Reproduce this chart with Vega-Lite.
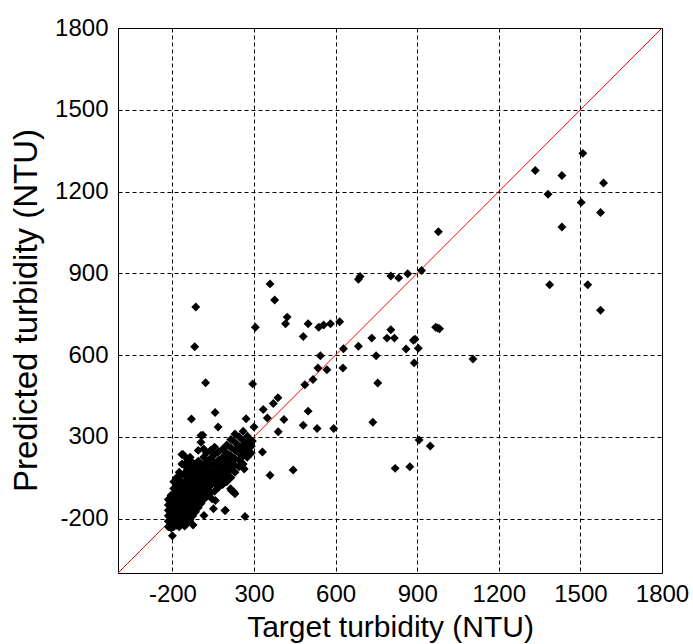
{
  "$schema": "https://vega.github.io/schema/vega-lite/v6.json",
  "autosize": {"type": "none"},
  "width": 544,
  "height": 545,
  "padding": {"left": 118, "top": 28, "right": 31, "bottom": 71},
  "background": "white",
  "config": {
    "view": {"stroke": "black", "strokeWidth": 1},
    "font": "Liberation Sans"
  },
  "datasets": {
    "diag": [{"t": -200, "p": -200}, {"t": 1800, "p": 1800}],
    "pts": [
      {"t":-15,"p":-30},{"t":-15,"p":-10},{"t":-15,"p":10},{"t":-15,"p":30},{"t":-15,"p":50},{"t":-15,"p":70},
      {"t":-5,"p":-35},{"t":-5,"p":-20},{"t":-5,"p":0},{"t":-5,"p":20},{"t":-5,"p":40},{"t":-5,"p":60},{"t":-5,"p":85},
      {"t":5,"p":-30},{"t":5,"p":-12},{"t":5,"p":8},{"t":5,"p":28},{"t":5,"p":48},{"t":5,"p":68},{"t":5,"p":90},{"t":5,"p":110},{"t":5,"p":135},
      {"t":15,"p":-25},{"t":15,"p":-5},{"t":15,"p":15},{"t":15,"p":35},{"t":15,"p":55},{"t":15,"p":75},{"t":15,"p":95},{"t":15,"p":120},{"t":15,"p":150},
      {"t":25,"p":-30},{"t":25,"p":-10},{"t":25,"p":10},{"t":25,"p":30},{"t":25,"p":50},{"t":25,"p":70},{"t":25,"p":92},{"t":25,"p":115},{"t":25,"p":140},{"t":25,"p":170},
      {"t":35,"p":-20},{"t":35,"p":0},{"t":35,"p":20},{"t":35,"p":40},{"t":35,"p":60},{"t":35,"p":80},{"t":35,"p":105},{"t":35,"p":130},{"t":35,"p":160},{"t":35,"p":200},{"t":35,"p":235},
      {"t":45,"p":-28},{"t":45,"p":-5},{"t":45,"p":15},{"t":45,"p":38},{"t":45,"p":58},{"t":45,"p":82},{"t":45,"p":108},{"t":45,"p":135},{"t":45,"p":165},{"t":45,"p":195},{"t":45,"p":228},
      {"t":55,"p":-15},{"t":55,"p":5},{"t":55,"p":25},{"t":55,"p":45},{"t":55,"p":70},{"t":55,"p":95},{"t":55,"p":120},{"t":55,"p":150},{"t":55,"p":180},{"t":55,"p":210},
      {"t":65,"p":-5},{"t":65,"p":15},{"t":65,"p":35},{"t":65,"p":55},{"t":65,"p":80},{"t":65,"p":105},{"t":65,"p":130},{"t":65,"p":160},{"t":65,"p":190},{"t":65,"p":225},
      {"t":75,"p":10},{"t":75,"p":30},{"t":75,"p":52},{"t":75,"p":75},{"t":75,"p":100},{"t":75,"p":125},{"t":75,"p":150},{"t":75,"p":175},{"t":75,"p":205},
      {"t":85,"p":25},{"t":85,"p":45},{"t":85,"p":65},{"t":85,"p":90},{"t":85,"p":115},{"t":85,"p":140},{"t":85,"p":165},{"t":85,"p":195},
      {"t":95,"p":40},{"t":95,"p":60},{"t":95,"p":85},{"t":95,"p":110},{"t":95,"p":135},{"t":95,"p":160},{"t":95,"p":185},{"t":95,"p":210},{"t":95,"p":250},
      {"t":105,"p":55},{"t":105,"p":78},{"t":105,"p":100},{"t":105,"p":125},{"t":105,"p":150},{"t":105,"p":175},{"t":105,"p":200},{"t":105,"p":280},{"t":105,"p":305},
      {"t":115,"p":70},{"t":115,"p":95},{"t":115,"p":120},{"t":115,"p":145},{"t":115,"p":170},{"t":115,"p":195},{"t":115,"p":225},{"t":115,"p":255},
      {"t":125,"p":80},{"t":125,"p":105},{"t":125,"p":130},{"t":125,"p":155},{"t":125,"p":180},{"t":125,"p":205},{"t":125,"p":240},
      {"t":140,"p":95},{"t":140,"p":120},{"t":140,"p":145},{"t":140,"p":170},{"t":140,"p":195},{"t":140,"p":220},{"t":140,"p":250},
      {"t":155,"p":100},{"t":155,"p":130},{"t":155,"p":155},{"t":155,"p":180},{"t":155,"p":205},{"t":155,"p":235},{"t":155,"p":262},
      {"t":170,"p":115},{"t":170,"p":140},{"t":170,"p":165},{"t":170,"p":190},{"t":170,"p":215},{"t":170,"p":245},
      {"t":185,"p":125},{"t":185,"p":150},{"t":185,"p":175},{"t":185,"p":200},{"t":185,"p":225},{"t":185,"p":255},
      {"t":200,"p":135},{"t":200,"p":165},{"t":200,"p":190},{"t":200,"p":215},{"t":200,"p":240},{"t":200,"p":270},
      {"t":215,"p":150},{"t":215,"p":180},{"t":215,"p":205},{"t":215,"p":230},{"t":215,"p":260},{"t":215,"p":290},
      {"t":230,"p":170},{"t":230,"p":195},{"t":230,"p":220},{"t":230,"p":250},{"t":230,"p":280},{"t":230,"p":310},
      {"t":245,"p":190},{"t":245,"p":215},{"t":245,"p":240},{"t":245,"p":265},{"t":245,"p":300},
      {"t":260,"p":200},{"t":260,"p":230},{"t":260,"p":255},{"t":260,"p":285},{"t":260,"p":320},
      {"t":275,"p":225},{"t":275,"p":250},{"t":275,"p":275},
      {"t":290,"p":240},{"t":290,"p":265},{"t":290,"p":285},
      {"t":86,"p":776},{"t":82,"p":630},{"t":122,"p":498},{"t":70,"p":365},{"t":157,"p":389},{"t":168,"p":336},{"t":112,"p":306},{"t":39,"p":235},
      {"t":267,"p":7},{"t":116,"p":11},{"t":76,"p":-24},{"t":0,"p":-63},{"t":193,"p":29},{"t":151,"p":36},{"t":146,"p":72},{"t":217,"p":103},{"t":230,"p":91},
      {"t":276,"p":302},{"t":294,"p":284},{"t":257,"p":266},{"t":276,"p":242},{"t":264,"p":182},{"t":226,"p":97},{"t":214,"p":109},{"t":158,"p":66},{"t":195,"p":30},
      {"t":359,"p":861},{"t":376,"p":802},{"t":422,"p":739},{"t":416,"p":715},{"t":305,"p":702},{"t":481,"p":668},{"t":499,"p":715},
      {"t":538,"p":702},{"t":556,"p":710},{"t":581,"p":715},{"t":615,"p":722},{"t":684,"p":878},{"t":690,"p":888},
      {"t":803,"p":890},{"t":832,"p":883},{"t":865,"p":898},{"t":916,"p":910},{"t":733,"p":662},{"t":803,"p":693},{"t":789,"p":662},{"t":816,"p":662},
      {"t":684,"p":632},{"t":629,"p":623},{"t":886,"p":654},{"t":892,"p":658},{"t":859,"p":622},{"t":904,"p":625},{"t":889,"p":571},
      {"t":975,"p":699},{"t":968,"p":702},{"t":982,"p":696},{"t":1105,"p":585},{"t":544,"p":597},{"t":535,"p":552},{"t":568,"p":546},{"t":627,"p":552},
      {"t":749,"p":597},{"t":755,"p":497},{"t":487,"p":491},{"t":517,"p":510},{"t":295,"p":494},{"t":371,"p":422},{"t":388,"p":443},{"t":334,"p":400},
      {"t":349,"p":369},{"t":271,"p":366},{"t":300,"p":336},{"t":410,"p":363},{"t":499,"p":394},{"t":481,"p":342},{"t":532,"p":330},{"t":593,"p":330},
      {"t":737,"p":353},{"t":389,"p":318},{"t":907,"p":288},{"t":948,"p":266},{"t":819,"p":184},{"t":873,"p":190},{"t":444,"p":178},{"t":359,"p":159},{"t":331,"p":244},
      {"t":978,"p":1052},{"t":1509,"p":1340},{"t":1334,"p":1277},{"t":1432,"p":1259},{"t":1585,"p":1231},{"t":1381,"p":1190},{"t":1503,"p":1160},
      {"t":1574,"p":1123},{"t":1432,"p":1070},{"t":1387,"p":858},{"t":1527,"p":858},{"t":1574,"p":764}
    ]
  },
  "layer": [
    {
      "data": {"name": "diag"},
      "mark": {"type": "line", "color": "#ff0000", "strokeWidth": 1},
      "encoding": {
        "x": {
          "field": "t", "type": "quantitative",
          "scale": {"domain": [-200, 1800], "nice": false, "zero": false},
          "axis": {
            "title": "Target turbidity (NTU)",
            "values": [0, 300, 600, 900, 1200, 1500, 1800],
            "labelExpr": "datum.value == 0 ? '-200' : format(datum.value, 'd')",
            "labelFlush": false, "labelOverlap": false, "labelBound": false,
            "labelFont": "Liberation Sans", "labelFontSize": 24, "labelColor": "black", "labelPadding": 9,
            "ticks": false, "domain": true, "domainColor": "black",
            "grid": true, "gridColor": "black", "gridDash": [4, 3], "gridOpacity": 1, "gridWidth": 1,
            "titleFont": "Liberation Sans", "titleFontSize": 30, "titleFontWeight": "normal", "titleColor": "black",
            "titleBaseline": "alphabetic", "titleY": 63
          }
        },
        "y": {
          "field": "p", "type": "quantitative",
          "scale": {"domain": [-200, 1800], "nice": false, "zero": false},
          "axis": {
            "title": "Predicted turbidity (NTU)",
            "values": [0, 300, 600, 900, 1200, 1500, 1800],
            "labelExpr": "datum.value == 0 ? '-200' : format(datum.value, 'd')",
            "labelFlush": false, "labelOverlap": false, "labelBound": false,
            "labelFont": "Liberation Sans", "labelFontSize": 24, "labelColor": "black", "labelPadding": 10,
            "ticks": false, "domain": true, "domainColor": "black",
            "grid": true, "gridColor": "black", "gridDash": [4, 3], "gridOpacity": 1, "gridWidth": 1,
            "titleFont": "Liberation Sans", "titleFontSize": 33, "titleFontWeight": "normal", "titleColor": "black",
            "titleBaseline": "alphabetic", "titleAngle": -90, "titleAlign": "center", "titleX": -82, "titleY": 282
          }
        }
      }
    },
    {
      "data": {"name": "pts"},
      "mark": {"type": "point", "shape": "diamond", "filled": true, "color": "black", "opacity": 1, "size": 80},
      "encoding": {
        "x": {"field": "t", "type": "quantitative"},
        "y": {"field": "p", "type": "quantitative"}
      }
    }
  ]
}
